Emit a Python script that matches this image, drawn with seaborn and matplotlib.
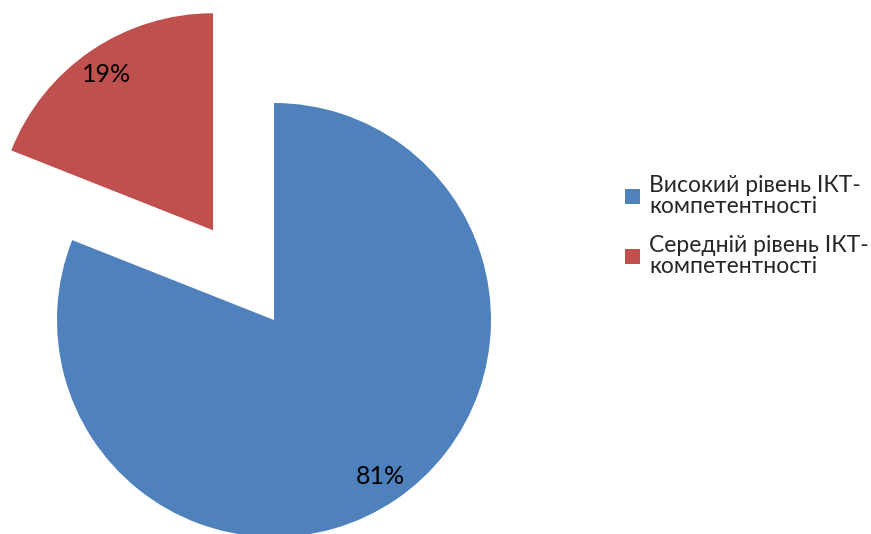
import matplotlib
matplotlib.use("Agg")
import matplotlib.pyplot as plt
import matplotlib.patches as mpatches
import seaborn as sns

# Survey result: share of respondents by ICT-competence level
levels = ["Високий рівень ІКТ-\nкомпетентності", "Середній рівень ІКТ-\nкомпетентності"]
shares = [81, 19]
colors = ["#4F81BD", "#C0504D"]
explode = [0.0, 0.5]

sns.set_style("white")
plt.rcParams["font.family"] = ["Lato", "DejaVu Sans"]

W, H = 871, 534
fig = plt.figure(figsize=(W / 100, H / 100), dpi=100)
ax = fig.add_axes([0, 0, 1, 1])

wedges, texts, autotexts = ax.pie(
    shares,
    colors=colors,
    explode=explode,
    startangle=90,
    counterclock=False,
    autopct="%d%%",
    pctdistance=0.87,
    wedgeprops=dict(linewidth=0),
    textprops=dict(fontsize=18, color="black"),
)

# pie centre / radius in pixels, expressed through equal-scale limits
cx, cy, r = 274, 320, 217
ax.set_xlim((0 - cx) / r, (W - cx) / r)
ax.set_ylim((cy - H) / r, cy / r)
ax.set_aspect("auto")
ax.axis("off")

handles = [mpatches.Patch(facecolor=c, edgecolor="none") for c in colors]
leg = fig.legend(
    handles, levels,
    loc="center left",
    bbox_to_anchor=(625 / W, 1 - 226 / H),
    frameon=False,
    fontsize=16.5,
    handlelength=0.65,
    handleheight=0.65,
    handletextpad=0.4,
    labelspacing=0.75,
    borderpad=0,
    borderaxespad=0,
)
for t in leg.get_texts():
    t.set_linespacing(1.05)

fig.savefig("out.png", dpi=100, facecolor="white")
